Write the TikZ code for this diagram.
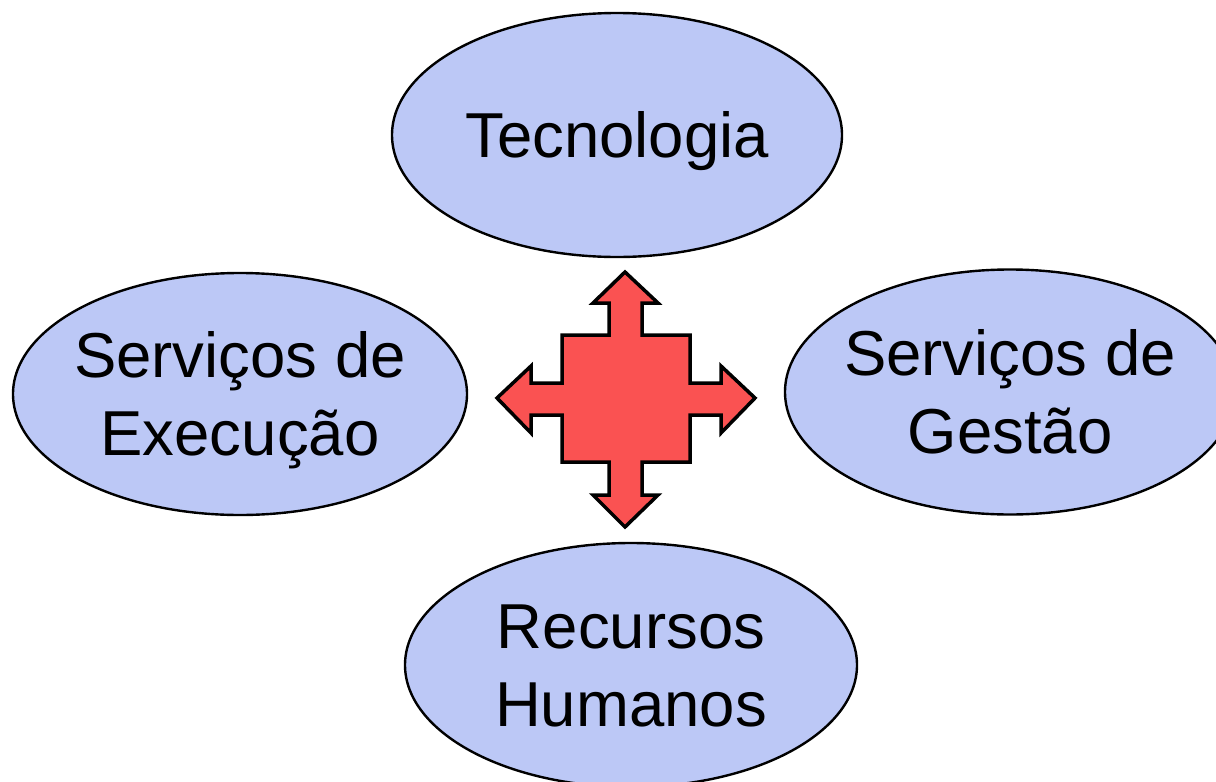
\documentclass[tikz,border=0pt]{standalone}
\usepackage{fontspec}
\setmainfont{Liberation Sans}
\usetikzlibrary{shapes.geometric}
\definecolor{ellfill}{RGB}{188,200,246}
\definecolor{crossfill}{RGB}{250,82,82}
\tikzset{
  blob/.style={ellipse, draw=black, line width=2.4pt, fill=ellfill,
    inner xsep=-40pt, inner ysep=-40pt,
    minimum width=450pt, minimum height=244pt, align=center,
    font=\fontsize{63.5}{78}\selectfont, text depth=0pt},
  oneline/.style={text height=45.5pt},
  twoline/.style={text height=123.5pt},
  crossstyle/.style={draw=black, line width=3.5pt, fill=crossfill, line join=miter}
}
\begin{document}
\begin{tikzpicture}[x=1pt,y=-1pt]
\clip (0,0) rectangle (1216,782);
\fill[white] (0,0) rectangle (1216,782);
\node[blob, oneline] (tec) at (617,135) {Tecnologia};
\node[blob, twoline, minimum width=454pt, minimum height=242pt] (exe) at (240,394) {Serviços de\\Execução};
\node[blob, twoline, minimum height=245pt] (ges) at (1010,392) {Serviços de\\Gestão};
\node[blob, twoline, minimum width=452pt] (rh) at (631,665) {Recursos\\Humanos};
\draw[crossstyle] (625,272) -- (658,303) -- (642,303) -- (642,335) -- (690,335)
  -- (690,383) -- (721,383) -- (721,366) -- (755,398) -- (721,433) -- (721,415)
  -- (690,415) -- (690,462) -- (642,462) -- (642,495) -- (658,495) -- (625,527)
  -- (593,495) -- (609,495) -- (609,462) -- (562,462) -- (562,415) -- (531,415)
  -- (531,433) -- (497,398) -- (531,366) -- (531,383) -- (562,383) -- (562,335)
  -- (609,335) -- (609,303) -- (593,303) -- cycle;
\end{tikzpicture}
\end{document}
